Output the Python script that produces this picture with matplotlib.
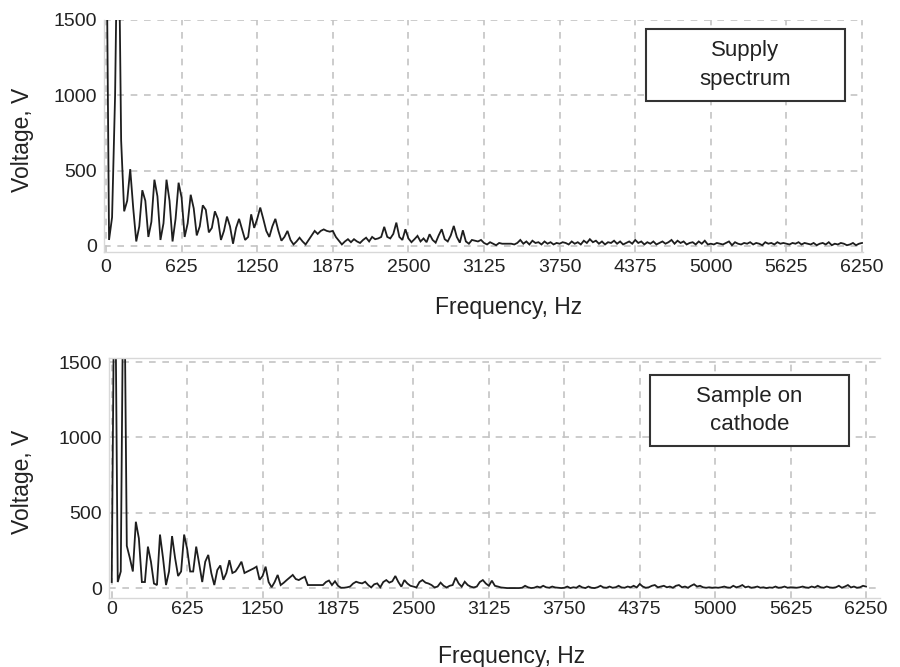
import matplotlib
matplotlib.use("Agg")
import matplotlib.pyplot as plt
from matplotlib.patches import Rectangle
import numpy as np

plt.rcParams["font.family"] = ["Liberation Sans", "DejaVu Sans"]

# spectrum sampled every 25 Hz, 0 .. 6250 Hz (values above 1500 are clipped by the axis)
freq = np.arange(0, 6251, 25)

supply_v = [
    2500, 40, 190, 1000, 2500, 700, 230, 300, 510, 250,
    30, 130, 370, 300, 60, 160, 440, 330, 40, 150,
    440, 300, 30, 180, 420, 320, 60, 150, 340, 250,
    70, 130, 270, 240, 90, 120, 230, 180, 40, 100,
    195, 130, 15, 120, 180, 110, 40, 60, 210, 120,
    180, 255, 180, 100, 60, 130, 180, 100, 35, 60,
    100, 40, 10, 30, 55, 30, 10, 40, 70, 100,
    80, 100, 110, 100, 95, 100, 60, 35, 10, 30,
    45, 25, 45, 30, 20, 40, 55, 30, 60, 45,
    50, 60, 127, 60, 50, 80, 155, 60, 40, 111,
    50, 25, 45, 67, 30, 50, 25, 78, 40, 22,
    70, 111, 45, 30, 70, 133, 60, 22, 104, 30,
    15, 40, 35, 30, 40, 20, 10, 25, 15, 5,
    20, 15, 15, 15, 15, 10, 20, 40, 15, 30,
    10, 35, 20, 25, 10, 30, 15, 25, 10, 20,
    15, 25, 20, 10, 30, 15, 25, 10, 35, 20,
    45, 25, 35, 15, 30, 10, 25, 20, 35, 15,
    30, 10, 20, 30, 15, 40, 20, 30, 10, 25,
    15, 30, 10, 20, 30, 15, 25, 40, 15, 35,
    20, 30, 10, 20, 25, 10, 30, 15, 35, 10,
    15, 10, 20, 15, 10, 20, 30, 5, 25, 15,
    10, 20, 15, 25, 10, 20, 15, 5, 25, 15,
    20, 10, 25, 15, 20, 15, 10, 20, 15, 25,
    10, 20, 15, 10, 20, 5, 15, 20, 10, 25,
    5, 15, 10, 20, 15, 5, 10, 20, 5, 15, 20,
]

cathode_v = [
    40, 2500, 40, 110, 2500, 280, 200, 110, 440, 330,
    40, 40, 275, 175, 30, 20, 355, 200, 20, 110,
    345, 200, 80, 110, 355, 260, 110, 110, 275, 160,
    40, 175, 220, 100, 20, 120, 150, 55, 100, 185,
    100, 110, 140, 175, 100, 110, 120, 130, 142, 55,
    80, 142, 40, 5, 40, 87, 20, 35, 53, 70,
    87, 60, 53, 65, 75, 20, 20, 20, 20, 20,
    20, 40, 50, 20, 45, 15, 2, 2, 5, 10,
    30, 42, 35, 31, 42, 20, 4, 25, 31, 5,
    40, 53, 36, 45, 80, 40, 9, 53, 30, 15,
    10, 4, 40, 53, 36, 30, 20, 4, 10, 36,
    15, 4, 15, 20, 69, 30, 9, 42, 20, 9,
    4, 10, 40, 53, 30, 15, 49, 15, 10, 4,
    2, 0, 0, 0, 0, 0, 2, 15, 5, 0,
    2, 10, 4, 15, 5, 2, 10, 4, 2, 0,
    2, 10, 0, 5, 2, 15, 4, 0, 10, 2,
    0, 5, 15, 4, 2, 10, 2, 5, 15, 4,
    2, 10, 5, 15, 4, 27, 10, 2, 5, 15,
    20, 5, 10, 15, 5, 10, 2, 15, 20, 5,
    10, 2, 15, 25, 10, 15, 5, 2, 5, 2,
    4, 2, 5, 10, 4, 2, 15, 5, 10, 20,
    5, 10, 2, 5, 10, 2, 5, 0, 4, 2,
    10, 2, 4, 10, 2, 5, 4, 2, 5, 10,
    4, 2, 10, 4, 15, 5, 2, 10, 4, 2,
    5, 15, 2, 10, 20, 4, 10, 2, 5, 15, 10,
]

x_ticks = np.arange(0, 6251, 625)
y_ticks = [0, 500, 1000, 1500]
labels = ["Supply\nspectrum", "Sample on\ncathode"]

W, H = 900, 667
fig = plt.figure(figsize=(9, 6.67), dpi=100)
fig.patch.set_facecolor("white")


def px_axes(left, top, right, bottom):
    return fig.add_axes([left / W, 1 - bottom / H, (right - left) / W, (bottom - top) / H])


ax1 = px_axes(103.6, 20, 863, 252)
ax2 = px_axes(109.3, 358, 880.5, 598)

setups = [
    (ax1, supply_v, (-20, 6258), (-40, 1500), False, 5),
    (ax2, cathode_v, (-20, 6370), (-66, 1527), True, 2.5),
]

for ax, vals, xl, yl, top_line, xpad in setups:
    ax.plot(freq, vals, color="#1e1e1e", lw=1.3, solid_joinstyle="miter")
    ax.set_xlim(*xl)
    ax.set_ylim(*yl)
    ax.set_xticks(x_ticks)
    ax.set_yticks(y_ticks)
    ax.grid(True, color="#c4c4c4", linestyle=(0, (4, 4)), lw=1.2)
    ax.set_axisbelow(True)
    ax.spines["right"].set_visible(False)
    ax.spines["top"].set_visible(top_line)
    for side in ["left", "bottom", "top"]:
        ax.spines[side].set_color("#d8d8d8")
        ax.spines[side].set_linewidth(1.0)
    ax.tick_params(length=0, labelsize=14, colors="#222222")
    ax.tick_params(axis="x", pad=xpad)
    ax.tick_params(axis="y", pad=5)
    ax.set_xlabel("Frequency, Hz", fontsize=16.5, color="#222222")
    ax.set_ylabel("Voltage, V", fontsize=16.5, color="#222222")

ax1.xaxis.set_label_coords(0.533, -0.19)
ax1.yaxis.set_label_coords(-0.092, 0.483)
ax2.xaxis.set_label_coords(0.522, -0.196)
ax2.yaxis.set_label_coords(-0.097, 0.483)

# annotation boxes
boxes = [(646, 29, 845, 101), (650, 375, 849, 446)]
for (l, t, r, b), txt in zip(boxes, labels):
    fig.patches.append(Rectangle((l / W, 1 - b / H), (r - l) / W, (b - t) / H,
                                 transform=fig.transFigure, facecolor="white",
                                 edgecolor="#333333", lw=1.5, zorder=5))
    fig.text((l + r) / 2 / W, 1 - (t + b) / 2 / H, txt, ha="center", va="center",
             fontsize=16, color="#222222", linespacing=1.45, zorder=6)

fig.savefig("out.png", dpi=100, facecolor="white")
